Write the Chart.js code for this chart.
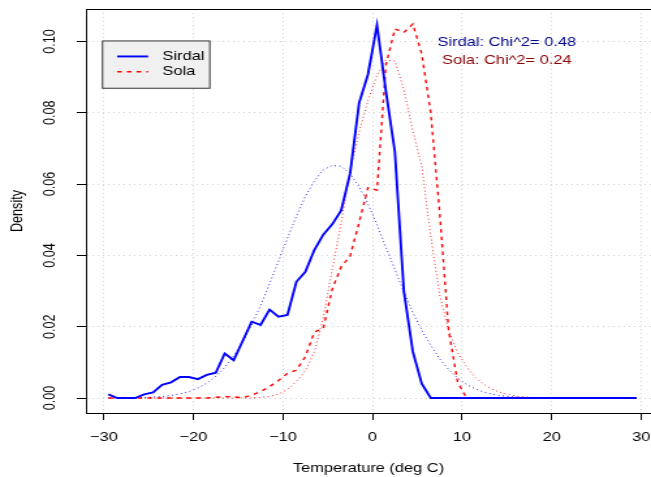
<!DOCTYPE html>
<html><head><meta charset="utf-8">
<script src="https://cdn.jsdelivr.net/npm/chart.js@4"></script>
<style>html,body{margin:0;padding:0;background:#fff;overflow:hidden}
canvas{display:block}</style>
</head><body>
<canvas id="c" width="500" height="477" style="width:651px;height:477px"></canvas>
<script>
// Temperature bin midpoints (deg C)
const temps = [-29.5,-28.5,-27.5,-26.5,-25.5,-24.5,-23.5,-22.5,-21.5,-20.5,
  -19.5,-18.5,-17.5,-16.5,-15.5,-14.5,-13.5,-12.5,-11.5,-10.5,
  -9.5,-8.5,-7.5,-6.5,-5.5,-4.5,-3.5,-2.5,-1.5,-0.5,
  0.5,1.5,2.5,3.5,4.5,5.5,6.5,7.5,8.5,9.5,
  10.5,11.5,12.5,13.5,14.5,15.5,16.5,17.5,18.5,19.5,
  20.5,21.5,22.5,23.5,24.5,25.5,26.5,27.5,28.5,29.5];
// Observed densities
const sirdalObs = [0.001,0,0,0,0.001,0.0016,0.0037,0.0044,0.0059,0.0059,
  0.0053,0.0065,0.0071,0.0125,0.0106,0.016,0.0214,0.0205,0.0248,0.0228,
  0.0233,0.0326,0.0354,0.0415,0.0458,0.0487,0.0526,0.063,0.0827,0.0908,
  0.1046,0.086,0.069,0.030,0.013,0.004,0,0,0,0,
  0,0,0,0,0,0,0,0,0,0,
  0,0,0,0,0,0,0,0,0,0];
const solaObs = [0,0,0,0,0,0,0,0,0,0,
  0,0,0.0002,0.0004,0.0003,0.0001,0.0008,0.0018,0.0032,0.0049,
  0.0069,0.0078,0.0116,0.0185,0.0195,0.0305,0.0368,0.0398,0.0492,0.059,
  0.0583,0.0934,0.1035,0.1025,0.1049,0.0965,0.080,0.052,0.019,0.0045,
  0,0,0,0,0,0,0,0,0,0,
  0,0,0,0,0,0,0,0,0,0];
// Fitted densities (dotted)
const sirdalFit = [0,0,0.00005,0.0001,0.00015,0.0003,0.0004,0.0007,0.0012,0.0018,
  0.0028,0.0042,0.0061,0.0086,0.0118,0.0157,0.0205,0.0259,0.032,0.0384,
  0.0448,0.051,0.0565,0.0609,0.064,0.0652,0.065,0.0629,0.0593,0.0544,
  0.0486,0.0423,0.036,0.0298,0.024,0.019,0.0148,0.011,0.008,0.0056,
  0.0038,0.0025,0.0016,0.001,0.0006,0.0004,0.0002,0.0001,0,0,
  0,0,0,0,0,0,0,0,0,0];
const solaFit = [0,0,0,0,0,0,0,0,0,0,
  0,0,0,0,0,0,0,0.0002,0.0004,0.0011,
  0.0024,0.0046,0.0076,0.0128,0.0225,0.036,0.049,0.0635,0.0745,0.0835,
  0.0905,0.0948,0.0945,0.0865,0.075,0.065,0.0455,0.029,0.019,0.0128,
  0.0088,0.0057,0.0037,0.0023,0.0014,0.0008,0.0004,0.0002,0.0001,0,
  0,0,0,0,0,0,0,0,0,0];
// Axis ticks
const xTicks = [-30,-20,-10,0,10,20,30];
const xTickLabels = ['\u221230','\u221220','\u221210','0','10','20','30'];
const yTicks = [0,0.02,0.04,0.06,0.08,0.10];
const yTickLabels = ['0.00','0.02','0.04','0.06','0.08','0.10'];
// Legend / annotation
const seriesNames = ['Sirdal','Sola'];
const chiTexts = ['Sirdal: Chi^2= 0.48','Sola: Chi^2= 0.24'];

const FAM = '"Liberation Sans", Arial, Helvetica, sans-serif';
const FS = 12.6;
const pts = arr => temps.map((t,i)=>({x:t,y:arr[i]}));

const extras = {
  id:'extras',
  afterDraw(chart){
    const ctx = chart.ctx, a = chart.chartArea;
    const xs = chart.scales.x, ys = chart.scales.y;
    ctx.save();
    // top frame line
    ctx.strokeStyle = '#000'; ctx.lineWidth = 1; ctx.setLineDash([]);
    ctx.beginPath(); ctx.moveTo(a.left, Math.round(a.top)+0.5); ctx.lineTo(a.right, Math.round(a.top)+0.5); ctx.stroke();
    // legend
    const lx = xs.getPixelForValue(-30) - 1, ly = ys.getPixelForValue(0.1) - 0.5;
    ctx.fillStyle = '#F0F0F0'; ctx.fillRect(lx, ly, 82.4, 47.3);
    ctx.strokeStyle = '#333'; ctx.lineWidth = 1; ctx.strokeRect(lx, ly, 82.4, 47.3);
    const rows = [ly+15.5, ly+30.8];
    const ds = chart.data.datasets;
    [0,1].forEach(k=>{
      const d = ds[k];
      ctx.strokeStyle = d.borderColor; ctx.lineWidth = d.borderWidth;
      ctx.setLineDash(d.borderDash || []);
      ctx.beginPath(); ctx.moveTo(lx+11.2, rows[k]); ctx.lineTo(lx+35, rows[k]); ctx.stroke();
      ctx.setLineDash([]);
      ctx.fillStyle = '#000'; ctx.font = FS+'px '+FAM; ctx.textBaseline='middle'; ctx.textAlign='left';
      ctx.fillText(seriesNames[k], lx+46, rows[k]);
    });
    // chi^2 annotations
    ctx.font = FS+'px '+FAM; ctx.textAlign='center'; ctx.textBaseline='alphabetic';
    ctx.fillStyle = '#00008B';
    ctx.fillText(chiTexts[0], xs.getPixelForValue(15), ys.getPixelForValue(0.1)+4.8);
    ctx.fillStyle = '#8B0000';
    ctx.fillText(chiTexts[1], xs.getPixelForValue(15), ys.getPixelForValue(0.095)+4.8);
    ctx.restore();
  }
};

const gridCommon = {color:'#d3d3d3', lineWidth:1, tickColor:'#000', tickLength:7, tickWidth:1, tickBorderDash:[0,0], drawOnChartArea:true, drawTicks:true};

new Chart(document.getElementById('c'), {
  type:'line',
  data:{datasets:[
    {label:seriesNames[0], data:pts(sirdalObs), borderColor:'#0000FF', borderWidth:1.9, pointRadius:0, tension:0, fill:false},
    {label:seriesNames[1], data:pts(solaObs), borderColor:'#FF0000', borderWidth:1.4, borderDash:[3.5,4], pointRadius:0, tension:0, fill:false},
    {label:'Sirdal fit', data:pts(sirdalFit), borderColor:'rgba(0,0,255,0.85)', borderWidth:1, borderDash:[1,2.5], pointRadius:0, tension:0, fill:false},
    {label:'Sola fit', data:pts(solaFit), borderColor:'rgba(255,0,0,0.85)', borderWidth:1, borderDash:[1,2.5], pointRadius:0, tension:0, fill:false}
  ]},
  options:{
    responsive:false, animation:false, devicePixelRatio:1,
    layout:{padding:{top:9,left:0,right:0,bottom:0}},
    plugins:{legend:{display:false}, tooltip:{enabled:false}},
    scales:{
      x:{type:'linear', min:-32, max:31.1,
        afterBuildTicks:s=>{s.ticks = xTicks.map(v=>({value:v}));},
        afterFit:s=>{s.height=64; s.paddingLeft=0; s.paddingRight=0;},
        ticks:{color:'#000', font:{family:FAM,size:FS}, padding:10, maxRotation:0, minRotation:0, autoSkip:false, callback:(v,i)=>xTickLabels[i]},
        grid:gridCommon,
        border:{display:true, color:'#000', width:1, dash:[1,3]},
        title:{display:true, text:'Temperature (deg C)', color:'#000', font:{family:FAM,size:FS}, padding:{top:0,bottom:0.6}}
      },
      y:{type:'linear', min:-0.0042, max:0.1091,
        afterBuildTicks:s=>{s.ticks = yTicks.map(v=>({value:v}));},
        afterFit:s=>{s.width=66; s.paddingTop=0; s.paddingBottom=0;},
        ticks:{color:'#000', font:{family:FAM,size:FS}, padding:8.3, minRotation:90, maxRotation:90, crossAlign:'center', autoSkip:false, callback:(v,i)=>yTickLabels[i]},
        grid:gridCommon,
        border:{display:true, color:'#000', width:1, dash:[1,3]},
        title:{display:true, text:'Density', color:'#000', font:{family:FAM,size:FS}, padding:{top:5.5,bottom:0}}
      }
    }
  },
  plugins:[extras]
});
</script>
</body></html>
